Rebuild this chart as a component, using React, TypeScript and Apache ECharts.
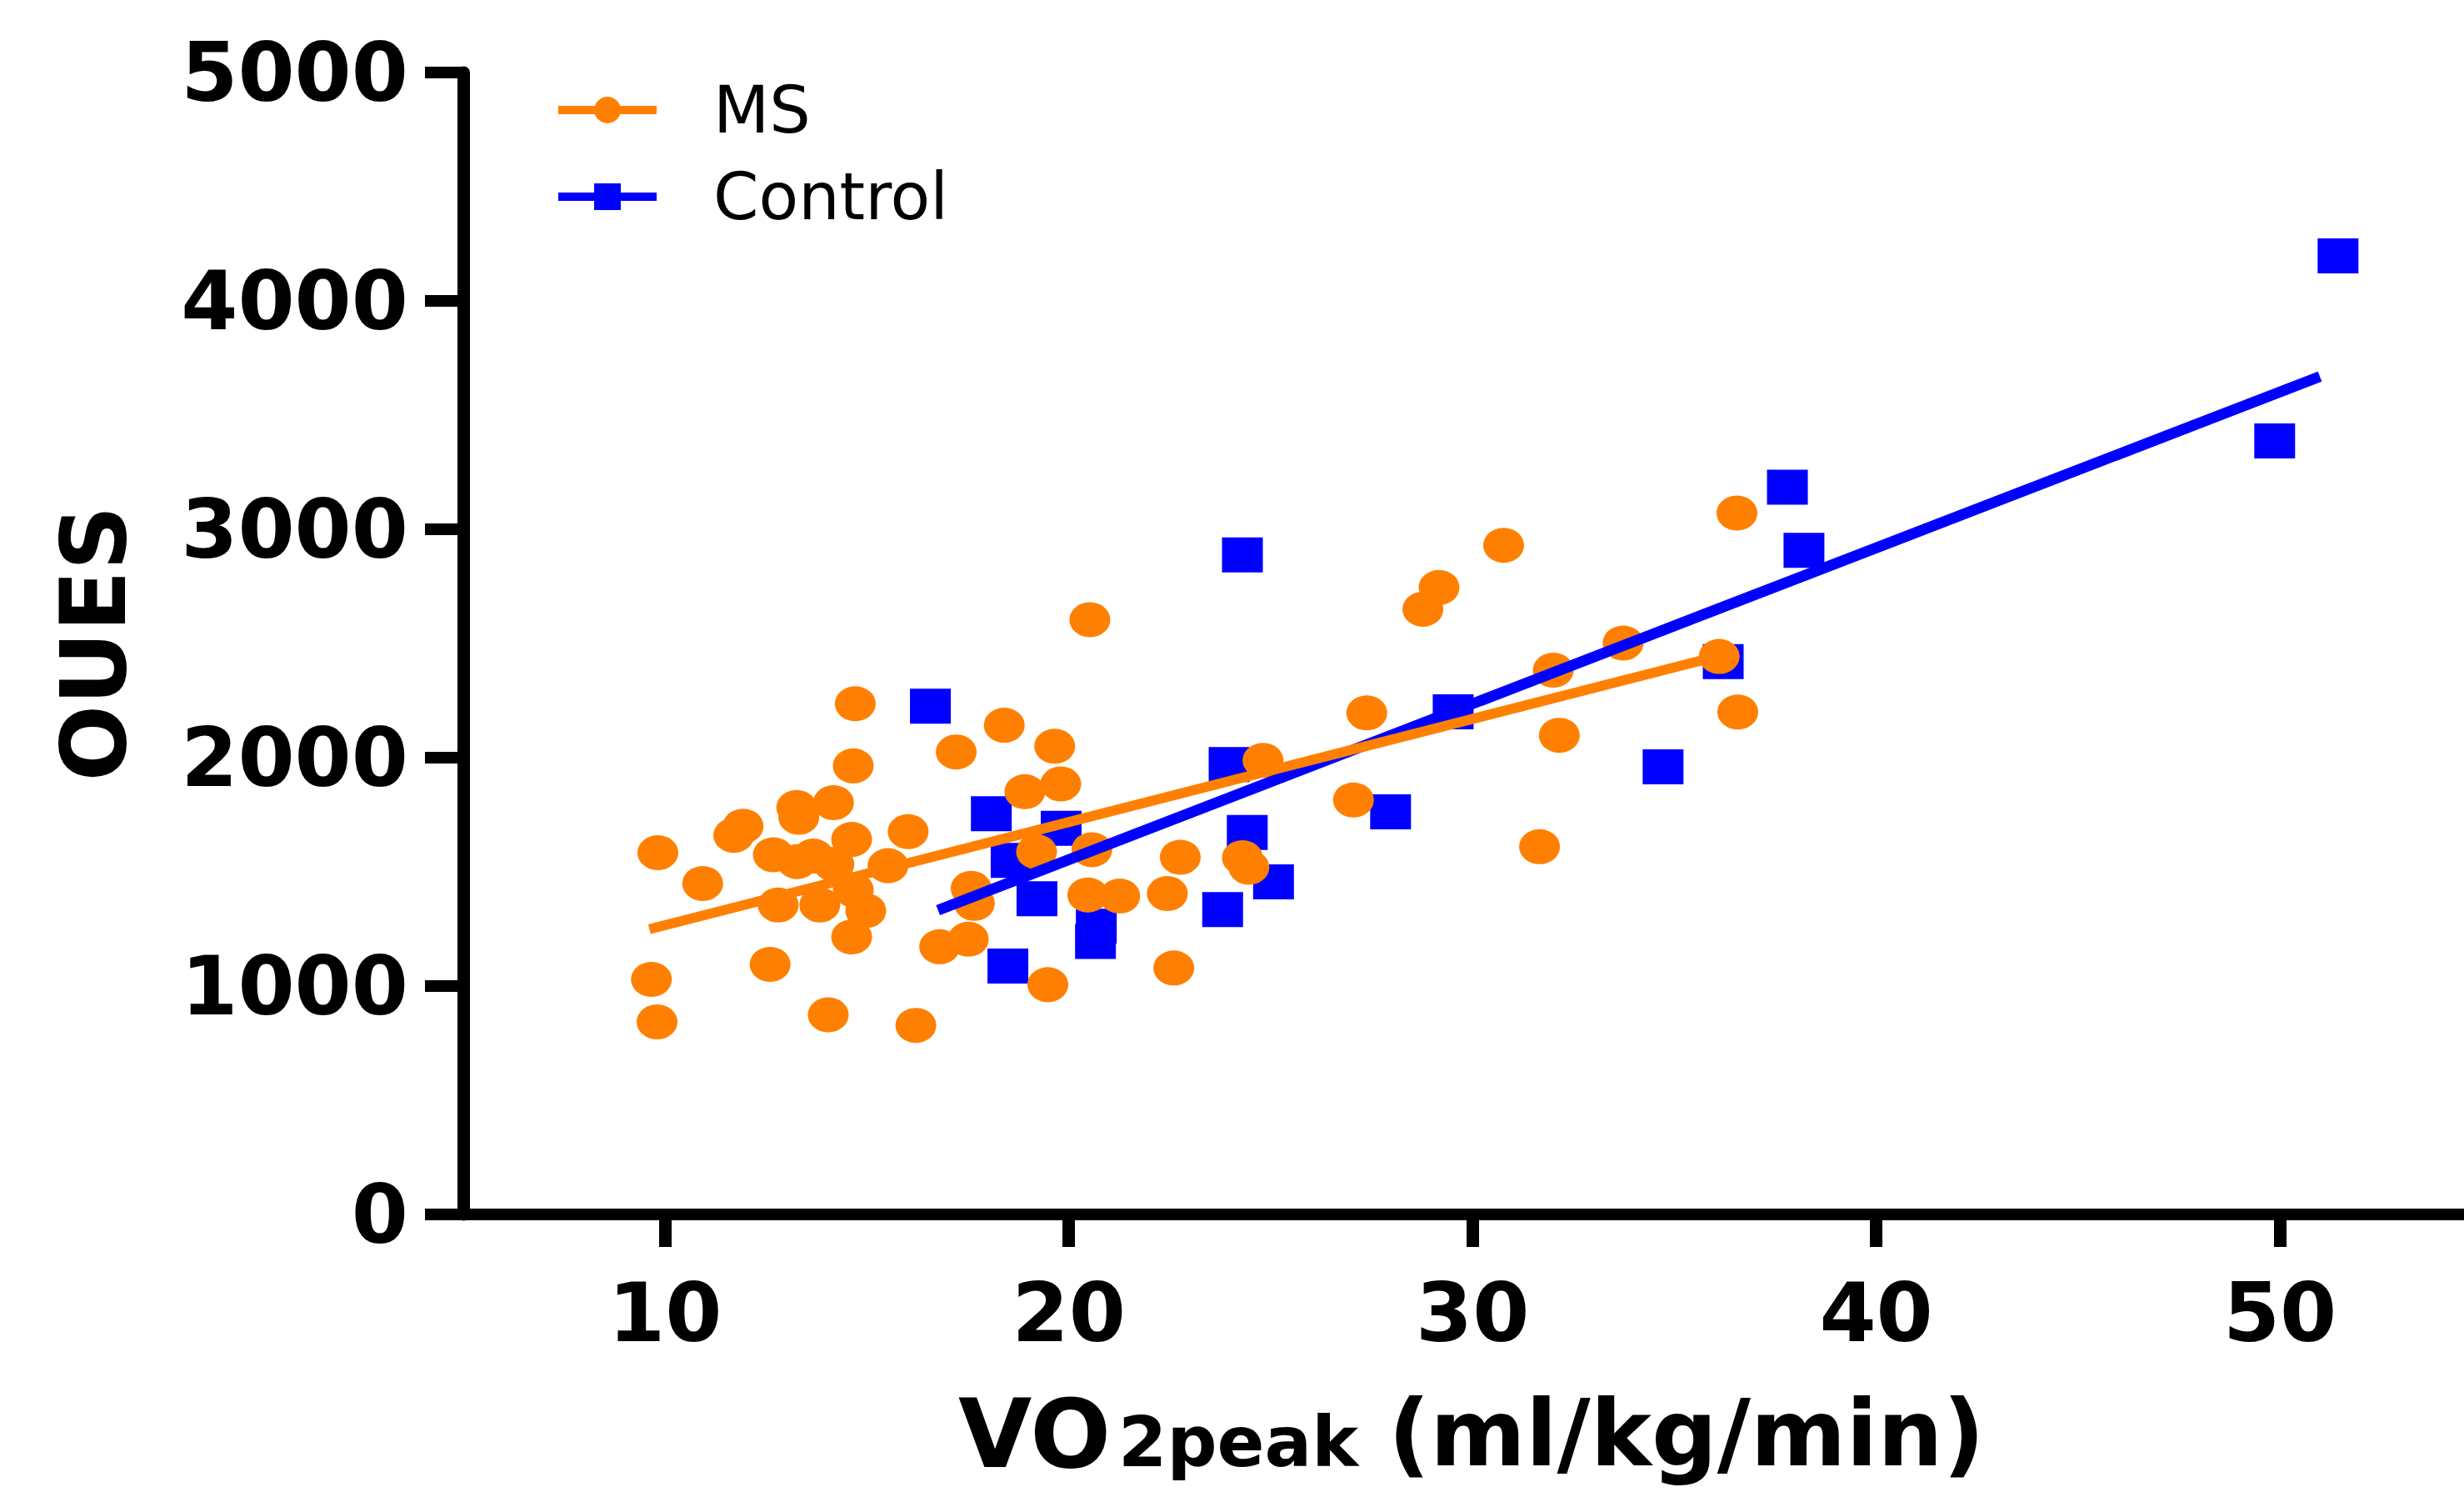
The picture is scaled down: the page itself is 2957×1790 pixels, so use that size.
import React, { useEffect, useRef } from 'react';
import * as echarts from 'echarts';

// ---- Data ----
const msPoints: [number, number][] = [
  [9.82, 1584], [9.66, 1029], [9.8, 843], [10.93, 1449], [11.7, 1660], [11.93, 1700],
  [12.6, 1095], [12.68, 1575], [12.8, 1355], [13.26, 1782], [13.31, 1739], [13.27, 1545],
  [13.67, 1569], [13.83, 1355], [14.04, 874], [14.17, 1803], [14.18, 1533], [14.62, 1642],
  [14.66, 1421], [14.62, 1215], [14.66, 1964], [14.71, 2236], [14.97, 1330], [15.52, 1527],
  [16.02, 1676], [16.21, 828], [16.8, 1172], [17.51, 1205], [17.21, 2025], [17.58, 1428],
  [17.66, 1362], [18.4, 2142], [18.91, 1851], [19.2, 1588], [19.48, 1006], [19.65, 2050],
  [19.8, 1885], [20.52, 2604], [20.57, 1597], [20.47, 1399], [21.26, 1394], [22.44, 1405],
  [22.6, 1079], [22.76, 1564], [24.3, 1562], [24.46, 1520], [24.81, 1988], [27.05, 1815],
  [27.38, 2196], [28.77, 2650], [29.17, 2745], [30.77, 2930], [31.66, 1610], [32.0, 2383],
  [32.15, 2098], [33.73, 2502], [36.11, 2443], [36.55, 3071], [36.57, 2200],
];

const controlPoints: [number, number][] = [
  [16.57, 2225], [18.08, 1755], [19.81, 1691], [18.57, 1550], [19.21, 1382], [20.68, 1262],
  [20.66, 1195], [18.49, 1088], [24.3, 2888], [23.97, 1970], [24.42, 1672], [25.07, 1456],
  [23.81, 1335], [27.97, 1763], [29.52, 2201], [34.72, 1960], [36.21, 2421], [37.8, 3184],
  [38.21, 2908], [49.87, 3387], [51.44, 4197],
];

const msFit: [number, number][] = [[9.61, 1249], [36.1, 2445]];
const controlFit: [number, number][] = [[16.76, 1332], [50.99, 3669]];

const xTickValues = [10, 20, 30, 40, 50];
const yTickInterval = 1000;
const xRange = [5, 54.56];
const yRange = [0, 5000];

const seriesNames = ['MS', 'Control'];
const ORANGE = '#FF8000';
const BLUE = '#0000FF';
const FONT = 'DejaVu Sans';

export default function App() {
  const ref = useRef<HTMLDivElement>(null);

  useEffect(() => {
    if (!ref.current) return;
    const chart = echarts.init(ref.current, undefined, { renderer: 'svg' });
    chart.setOption({
      animation: false,
      backgroundColor: '#ffffff',
      grid: { left: 556, right: 0, top: 87, bottom: 333, containLabel: false },
      legend: {
        orient: 'vertical',
        left: 660,
        top: 88,
        itemWidth: 118,
        itemHeight: 40,
        itemGap: 26,
        selectedMode: false,
        data: seriesNames,
        lineStyle: { width: 10 },
        textStyle: {
          fontFamily: FONT,
          fontSize: 78,
          color: '#000',
          padding: [0, 0, 0, 63],
        },
      },
      xAxis: {
        type: 'value',
        min: xRange[0],
        max: xRange[1],
        splitLine: { show: false },
        axisLine: { show: true, onZero: false, lineStyle: { color: '#000', width: 14 } },
        axisTick: {
          show: true,
          customValues: xTickValues,
          length: 39,
          lineStyle: { color: '#000', width: 15 },
        },
        axisLabel: {
          customValues: xTickValues,
          margin: 69,
          fontFamily: FONT,
          fontWeight: 'bold',
          fontSize: 98,
          color: '#000',
          formatter: (v: number) => String(v),
        },
      },
      yAxis: {
        type: 'value',
        min: yRange[0],
        max: yRange[1],
        interval: yTickInterval,
        name: 'OUES',
        nameLocation: 'middle',
        nameRotate: 90,
        nameGap: 390,
        nameTextStyle: {
          fontFamily: FONT,
          fontWeight: 'bold',
          fontSize: 108,
          color: '#000',
        },
        splitLine: { show: false },
        axisLine: { show: true, onZero: false, lineStyle: { color: '#000', width: 15 } },
        axisTick: { show: true, length: 46, lineStyle: { color: '#000', width: 14 } },
        axisLabel: {
          margin: 66,
          fontFamily: FONT,
          fontWeight: 'bold',
          fontSize: 98,
          color: '#000',
          formatter: (v: number) => String(v),
        },
      },
      graphic: [
        {
          type: 'text',
          x: 1150,
          y: 1720,
          style: {
            text: 'VO',
            fontFamily: FONT,
            fontWeight: 'bold',
            fontSize: 114,
            fill: '#000',
            textAlign: 'left',
            textVerticalAlign: 'middle',
          },
        },
        {
          type: 'text',
          x: 1342,
          y: 1730,
          style: {
            text: '2peak',
            fontFamily: FONT,
            fontWeight: 'bold',
            fontSize: 84,
            fill: '#000',
            textAlign: 'left',
            textVerticalAlign: 'middle',
          },
        },
        {
          type: 'text',
          x: 1666,
          y: 1720,
          style: {
            text: '(ml/kg/min)',
            fontFamily: FONT,
            fontWeight: 'bold',
            fontSize: 110,
            fill: '#000',
            textAlign: 'left',
            textVerticalAlign: 'middle',
          },
        },
      ],
      series: [
        {
          name: 'Control',
          type: 'line',
          data: controlFit,
          symbol: 'rect',
          showSymbol: false,
          silent: true,
          itemStyle: { color: BLUE },
          lineStyle: { color: BLUE, width: 13 },
        },
        {
          name: 'MS',
          type: 'line',
          data: msFit,
          symbol: 'circle',
          showSymbol: false,
          silent: true,
          itemStyle: { color: ORANGE },
          lineStyle: { color: ORANGE, width: 12 },
        },
        {
          name: 'Control',
          type: 'scatter',
          data: controlPoints,
          symbol: 'rect',
          symbolSize: [49, 42],
          itemStyle: { color: BLUE, opacity: 1 },
        },
        {
          name: 'MS',
          type: 'scatter',
          data: msPoints,
          symbol: 'circle',
          symbolSize: [49, 42],
          itemStyle: { color: ORANGE, opacity: 1 },
        },
      ],
    });
    return () => chart.dispose();
  }, []);

  return (
    <div
      ref={ref}
      style={{ position: 'absolute', left: 0, top: 0, width: 2957, height: 1790 }}
    />
  );
}
